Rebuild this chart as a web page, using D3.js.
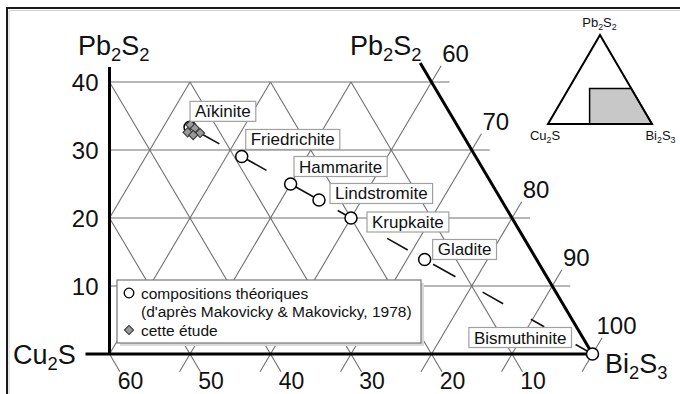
<!DOCTYPE html>
<html>
<head>
<meta charset="utf-8">
<script src="https://cdn.jsdelivr.net/npm/d3@7"></script>
<style>
  html, body { margin: 0; padding: 0; background: #fff; }
  svg { display: block; font-family: "Liberation Sans", Arial, Helvetica, sans-serif; }
</style>
</head>
<body>
<svg id="chart" width="680" height="394"></svg>
<script>
// Members of the bismuthinite–aikinite series, mol % in Cu2S–Pb2S2–Bi2S3
const minerals = ["Aïkinite", "Friedrichite", "Hammarite", "Lindstromite", "Krupkaite", "Gladite", "Bismuthinite"];
const mineralCu2S  = [33.33, 29.05, 25.00, 22.65, 20.00, 13.90, 0];
const mineralPb2S2 = [33.33, 29.05, 25.00, 22.65, 20.00, 13.90, 0];
const mineralBi2S3 = [33.34, 41.90, 50.00, 54.70, 60.00, 72.20, 100];

// Analyses from this study (aikinite grains)
const studyCu2S  = [33.1, 32.8, 32.5, 34.0, 33.5];
const studyPb2S2 = [33.7, 33.2, 32.5, 32.6, 32.2];
const studyBi2S3 = [33.2, 34.0, 35.0, 33.4, 34.3];

// Pieces of the aikinite–bismuthinite join (Cu2S = Pb2S2, in mol %)
const joinFrom = [32.4, 29.05, 25.00, 21.1, 17.0, 13.2, 9.1, 5.1, 1.4];
const joinTo   = [30.9, 27.0, 22.65, 20.0, 15.3, 11.35, 7.4, 4.0, 0.3];

// Axis ticks
const pb2s2Ticks = [10, 20, 30, 40];
const cu2sTicks  = [60, 50, 40, 30, 20, 10];
const bi2s3Ticks = [60, 70, 80, 90, 100];

// Label placement (offset of label text from its point, px)
const labelDx     = [5, 9, 8.4, 16, 21, 13, -26];
const labelDy     = [-16, -17, -17.5, -6.5, 4, -10, -16.5];
const labelAnchor = ["start", "start", "start", "start", "start", "start", "end"];

const svg = d3.select("#chart");

// Ternary position: horizontal coordinate is Bi2S3 + Pb2S2/2, vertical is Pb2S2
const ys = d3.scaleLinear().domain([0, 40]).range([354, 82]);
const us = d3.scaleLinear().domain([40, 100]).range([109.5, 592.5]);
const P = (cu, pb, bi) => [us(bi + pb / 2), ys(pb)];
const axisX = us(40);

const gridColor = "#707070";
const line = d3.line();
const grid = svg.append("g").attr("fill", "none").attr("stroke", gridColor).attr("stroke-width", 1.1);

// Constant Pb2S2 lines (horizontal), running a little past the right edge
pb2s2Ticks.forEach(p => {
  const a = P(60 - p / 2, p, 40 - p / 2);
  const b = P(0, p, 100 - p);
  grid.append("path").attr("d", line([a, [b[0] + 18, b[1]]]));
});

// Constant Cu2S lines, with ticks below the base
cu2sTicks.forEach(c => {
  const pmax = Math.min(40, 2 * (60 - c));
  grid.append("path").attr("d", line([P(c, -2.6, 100 - c + 2.6), P(c, pmax, 100 - c - pmax)]));
});

// Constant Bi2S3 lines, with ticks below the base and beyond the right edge
[20, 30, 40, 50, 60, 70, 80, 90, 100].forEach(b => {
  let pmin = Math.max(0, 2 * (40 - b));
  if (pmin === 0 && b > 40) pmin = -2.6;
  let pmax = Math.min(40, 100 - b);
  if (b >= 60) pmax = 100 - b + 2.4;
  grid.append("path").attr("d", line([P(100 - b - pmin, pmin, b), P(100 - b - pmax, pmax, b)]));
});

// Frame of the figure
svg.append("path").attr("d", "M7,394 V8 H680").attr("fill", "none").attr("stroke", "#1a1a1a").attr("stroke-width", 2);
svg.append("path").attr("d", "M9,394 V10.5 H680").attr("fill", "none").attr("stroke", "#d0d0d0").attr("stroke-width", 1);

// Heavy axes: Pb2S2 axis, Cu2S–Bi2S3 base, Pb2S2–Bi2S3 edge
const heavy = svg.append("g").attr("fill", "none").attr("stroke", "#000").attr("stroke-width", 3);
heavy.append("path").attr("d", line([[axisX, ys(0) + 1], [axisX, ys(42.2)]]));
heavy.append("path").attr("d", line([[axisX - 24, ys(0)], P(0, 0, 100)]));
heavy.append("path").attr("d", line([P(0, 0, 100), P(0, 42.8, 57.2)]));

// Join pieces
const joins = svg.append("g").attr("stroke", "#111").attr("stroke-width", 1.6).attr("fill", "none");
joinFrom.forEach((f, i) => {
  const t = joinTo[i];
  joins.append("path").attr("d", line([P(f, f, 100 - 2 * f), P(t, t, 100 - 2 * t)]));
});

// Theoretical compositions (open circles)
const mpts = minerals.map((m, i) => P(mineralCu2S[i], mineralPb2S2[i], mineralBi2S3[i]));
svg.append("g").selectAll("circle").data(mpts).join("circle")
  .attr("cx", d => d[0]).attr("cy", d => d[1]).attr("r", 6)
  .attr("fill", "#fff").attr("stroke", "#000").attr("stroke-width", 1.5);

// This study (grey diamonds: squares turned 45 degrees)
const sym = d3.symbol().type(d3.symbolSquare).size(42);
const spts = studyCu2S.map((c, i) => P(c, studyPb2S2[i], studyBi2S3[i]));
svg.append("g").selectAll("path").data(spts).join("path")
  .attr("transform", d => `translate(${d[0]},${d[1]}) rotate(45)`)
  .attr("d", sym).attr("fill", "#9a9a9a").attr("stroke", "#3a3a3a").attr("stroke-width", 1.1);

// Mineral name boxes
const lab = svg.append("g");
minerals.forEach((m, i) => {
  const g = lab.append("g");
  const x = mpts[i][0] + labelDx[i], y = mpts[i][1] + labelDy[i];
  const t = g.append("text").attr("x", x).attr("y", y + 6).attr("font-size", 17)
    .attr("text-anchor", labelAnchor[i]).attr("fill", "#111").text(m);
  const bb = t.node().getBBox();
  g.insert("rect", "text").attr("x", bb.x - 5).attr("y", y - 10).attr("width", bb.width + 10).attr("height", 20)
    .attr("fill", "#fff").attr("stroke", "#a0a0a0").attr("stroke-width", 1.2);
});

// Chemical formula text with subscripts
function formula(g, x, y, txt, size, anchor) {
  const t = g.append("text").attr("x", x).attr("y", y).attr("font-size", size)
    .attr("text-anchor", anchor || "start").attr("fill", "#111");
  let shift = 0;
  (txt.match(/\d+|\D+/g) || []).forEach(run => {
    if (/\d/.test(run)) {
      t.append("tspan").attr("font-size", size * 0.68).attr("dy", size * 0.22 - shift).text(run);
      shift = size * 0.22;
    } else {
      t.append("tspan").attr("dy", -shift).text(run);
      shift = 0;
    }
  });
  return t;
}

const txt = svg.append("g");
formula(txt, 78, 55, "Pb2S2", 27);
formula(txt, 350, 55, "Pb2S2", 27);
formula(txt, 13, 364, "Cu2S", 27);
formula(txt, 605, 373, "Bi2S3", 27);

// Pb2S2 tick labels
pb2s2Ticks.forEach(p => {
  txt.append("text").attr("x", axisX - 11).attr("y", ys(p) + 8.5).attr("font-size", 24)
    .attr("text-anchor", "end").attr("fill", "#111").text(p);
});
// Cu2S tick labels under the base
cu2sTicks.forEach(c => {
  const q = P(c, 0, 100 - c);
  txt.append("text").attr("x", q[0] + 21).attr("y", q[1] + 34.5).attr("font-size", 23)
    .attr("text-anchor", "middle").attr("fill", "#111").text(c);
});
// Bi2S3 tick labels along the right edge
bi2s3Ticks.forEach(b => {
  const q = P(0, 100 - b, b);
  txt.append("text").attr("x", q[0] + 24).attr("y", q[1] - 20).attr("font-size", 24)
    .attr("text-anchor", "middle").attr("fill", "#111").text(b);
});

// Legend
const lg = svg.append("g");
lg.append("rect").attr("x", 120).attr("y", 283).attr("width", 304).attr("height", 63).attr("fill", "#d8d8d8");
lg.append("rect").attr("x", 117).attr("y", 280).attr("width", 304).attr("height", 63)
  .attr("fill", "#fff").attr("stroke", "#777").attr("stroke-width", 1.2);
lg.append("circle").attr("cx", 129).attr("cy", 293).attr("r", 4.8)
  .attr("fill", "#fff").attr("stroke", "#000").attr("stroke-width", 1.3);
lg.append("path").attr("transform", "translate(129,330) rotate(45)").attr("d", sym)
  .attr("fill", "#9a9a9a").attr("stroke", "#3a3a3a").attr("stroke-width", 1.1);
[["compositions théoriques", 298.5], ["(d'après Makovicky & Makovicky, 1978)", 316.5], ["cette étude", 335.5]]
  .forEach(([s, y]) => lg.append("text").attr("x", 141).attr("y", y).attr("font-size", 15.5).attr("fill", "#111").text(s));

// Inset: position of the enlarged field in the full triangle
const iy = d3.scaleLinear().domain([0, 100]).range([124, 35]);
const ix = d3.scaleLinear().domain([0, 100]).range([548, 652]);
const IP = (cu, pb, bi) => [ix(bi + pb / 2), iy(pb)];
const inset = svg.append("g");
inset.append("path")
  .attr("d", line([[ix(40), iy(0)], [ix(40), iy(40)], IP(0, 40, 60), IP(0, 0, 100)]) + "Z")
  .attr("fill", "#c8c8c8").attr("stroke", "#000").attr("stroke-width", 1.5);
inset.append("path").attr("d", line([IP(100, 0, 0), IP(0, 100, 0), IP(0, 0, 100)]) + "Z")
  .attr("fill", "none").attr("stroke", "#000").attr("stroke-width", 2);
formula(inset, 599.5, 27, "Pb2S2", 13, "middle");
formula(inset, 545, 140, "Cu2S", 13, "middle");
formula(inset, 660.5, 140, "Bi2S3", 13, "middle");
</script>
</body>
</html>
